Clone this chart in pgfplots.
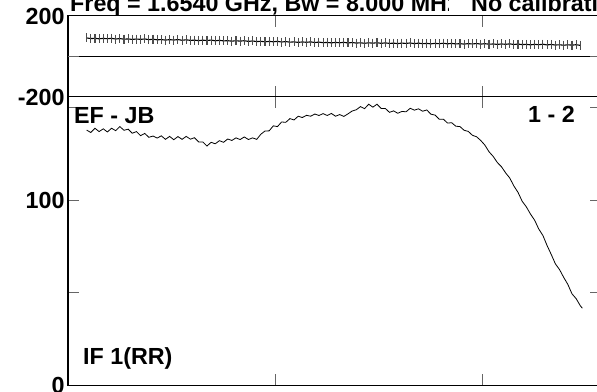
\documentclass[border=0pt]{standalone}
\usepackage{fontspec}
\setmainfont{Liberation Sans}
\usepackage{pgfplots}
\pgfplotsset{compat=1.18}
\usepackage{pgfplotstable}

\pgfplotstableread{
x y
9 91.5
11 88.6
13 89.7
15 87.4
17 89.5
19 87.6
21 89.7
23 86.3
25 88.5
27 85.6
29 86.7
31 84.3
33 86.4
35 84.5
37 86.6
39 83.2
41 85.3
43 82.4
45 83.5
47 81.1
49 83.2
51 81.3
53 83.5
55 80.2
57 82.4
59 79.6
61 80.7
63 78.4
65 80.6
67 78.8
69 81.0
71 77.6
73 79.8
75 77.0
77 78.1
79 75.7
81 77.8
83 75.9
85 78.0
87 74.6
89 76.7
91 73.8
93 74.9
95 72.5
97 74.6
99 72.7
101 74.8
103 71.5
105 73.7
107 70.9
109 72.1
111 69.7
113 71.9
115 70.1
117 72.3
119 69.0
121 71.1
123 68.3
125 69.5
127 67.3
129 69.5
131 67.8
133 70.0
135 66.8
137 69.1
139 66.3
141 67.6
143 65.3
145 67.6
147 65.9
149 68.1
151 64.9
153 67.3
155 64.6
157 65.9
159 63.8
161 66.1
163 64.5
165 66.8
167 63.6
169 66.0
171 63.3
173 64.7
175 62.5
177 64.8
179 63.2
181 65.5
183 62.4
185 64.7
187 62.0
189 63.4
191 61.2
193 63.6
195 61.9
197 64.2
199 61.1
201 63.4
203 60.6
205 61.9
207 59.7
209 61.9
211 60.2
213 62.4
215 59.2
217 61.5
219 58.7
221 60.0
223 57.7
225 60.0
227 58.2
229 60.5
231 57.2
233 59.4
235 56.6
237 57.9
239 55.6
241 57.8
243 56.0
245 58.3
247 55.0
}\phasetable

\pgfplotstableread{
x y
9 137.8
11 136.5
13 138.8
15 137.0
17 138.5
19 136.8
21 138.8
23 137.5
25 139.7
27 137.7
29 138.3
31 136.1
33 137.0
35 134.8
37 136.0
39 133.9
41 134.6
43 133.5
45 134.7
47 132.8
49 134.4
51 132.6
53 134.3
55 132.8
57 134.4
59 132.9
61 133.7
63 131.4
65 131.4
67 129.2
69 131.2
71 130.4
73 132.1
75 131.2
77 133.0
79 132.2
81 133.6
83 132.7
85 134.1
87 132.7
89 133.6
91 132.8
93 135.6
95 137.3
97 137.4
99 140.1
101 139.7
103 142.2
105 142.0
107 144.0
109 143.3
111 145.3
113 144.6
115 145.8
117 145.3
119 146.5
121 145.7
123 146.7
125 145.7
127 146.8
129 145.3
131 146.2
133 145.2
135 146.6
137 148.1
139 148.8
141 150.5
143 149.4
145 151.8
147 150.2
149 151.8
151 149.5
153 149.5
155 147.4
157 148.2
159 146.9
161 147.9
163 147.7
165 149.6
167 148.6
169 149.3
171 148.0
173 148.7
175 146.4
177 145.9
179 143.7
181 143.7
183 141.6
185 141.8
187 139.9
189 139.7
191 137.7
193 137.1
195 135.0
197 134.2
199 132.2
201 129.7
203 126.1
205 123.6
207 120.3
209 118.0
211 114.7
213 111.9
215 107.6
217 104.1
219 99.3
221 96.3
223 92.4
225 89.1
227 84.3
229 80.8
231 75.4
233 70.6
235 65.5
237 62.4
239 58.2
241 54.4
243 49.3
245 46.7
247 42.9
248 41.5
}\amptable

\pgfplotsset{
  panel/.style={
    scale only axis,
    width=533pt,
    anchor=south west,
    xmin=0, xmax=257,
    xtick={100,200},
    xticklabels={},
    tick pos=both,
    tick align=inside,
    major tick length=11pt,
    major tick style={black!60, line width=1pt},
    axis line style={black, line width=1pt},
    /pgf/number format/assume math mode=true,
    yticklabel style={font=\bfseries\fontsize{23.3}{26}\selectfont},
  },
}

\begin{document}
\begin{tikzpicture}
\useasboundingbox (0pt,0pt) rectangle (597pt,391pt);
\clip (0pt,0pt) rectangle (597pt,391pt);

% top panel (phase)
\begin{axis}[panel,
  at={(68pt,294pt)},
  height=81pt,
  ymin=-200, ymax=200,
  ytick={-200,200},
  yticklabels={-200,200},
  extra y ticks={0},
  extra y tick labels={},
  extra y tick style={grid=major, major grid style={black, line width=1pt}},
]
\addplot[black, line width=1.1pt, mark=|, mark size=4.5pt,
  mark options={black!70, line width=1.1pt}] table[x=x,y=y] {\phasetable};
\end{axis}

% bottom panel (amplitude)
\begin{axis}[panel,
  at={(68pt,6pt)},
  height=288pt,
  ymin=0, ymax=155.7,
  ytick={0,50,100,150},
  yticklabels={0,,100,},
]
\addplot[black, line width=0.8pt] table[x=x,y=y] {\amptable};
\end{axis}

\node[anchor=base west, inner sep=0pt, font=\bfseries\fontsize{23.3}{27}\selectfont] at (70pt,379.5pt) {Freq = 1.6540 GHz, Bw = 8.000 MHz};
\node[anchor=base west, inner sep=0pt, fill=white, font=\bfseries\fontsize{23.3}{27}\selectfont] at (449pt,379.5pt) {\hspace{22pt}No calibration};
\node[anchor=base west, inner sep=0pt, font=\bfseries\fontsize{23.3}{26}\selectfont] at (74pt,267pt) {EF - JB};
\node[anchor=base west, inner sep=0pt, font=\bfseries\fontsize{23.3}{26}\selectfont] at (528pt,268pt) {1 - 2};
\node[anchor=base west, inner sep=0pt, font=\bfseries\fontsize{23.3}{26}\selectfont] at (83pt,27pt) {IF 1(RR)};
\end{tikzpicture}
\end{document}
